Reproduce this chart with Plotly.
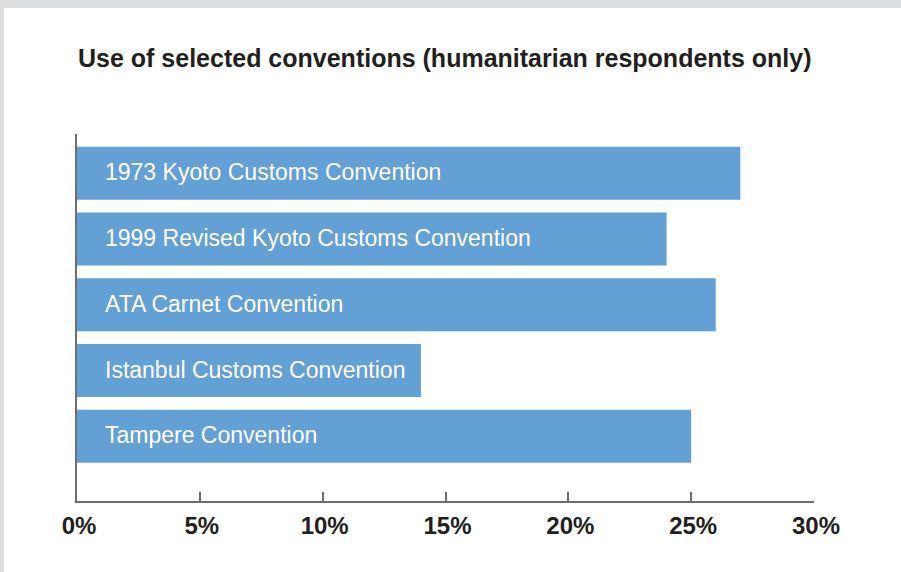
import plotly.graph_objects as go

categories = [
    "1973 Kyoto Customs Convention",
    "1999 Revised Kyoto Customs Convention",
    "ATA Carnet Convention",
    "Istanbul Customs Convention",
    "Tampere Convention",
]
values = [27, 24, 26, 14, 25]
tick_vals = [0, 5, 10, 15, 20, 25, 30]
tick_text = ["0%", "5%", "10%", "15%", "20%", "25%", "30%"]
title_text = "Use of selected conventions (humanitarian respondents only)"

W, H = 901, 572
ML, MR, MT, MB = 77, 87, 134, 71
PW, PH = W - ML - MR, H - MT - MB

BAR = "#63a0d6"
DARK = "#231f20"
AXIS = "#6d6e71"
FONT = "Liberation Sans, Arial, Helvetica, sans-serif"

ypos = list(range(len(categories)))

fig = go.Figure()
fig.add_trace(go.Bar(
    x=values, y=ypos, orientation="h",
    marker=dict(color=BAR, line=dict(width=0)),
    width=0.805, hoverinfo="skip",
))

for yi, name in zip(ypos, categories):
    fig.add_annotation(
        x=0, y=yi, xref="x", yref="y", text=name, showarrow=False,
        xanchor="left", yanchor="middle", xshift=26, yshift=1,
        font=dict(family=FONT, size=23, color="white"),
    )

# white card over gray page background
fig.add_shape(
    type="rect", xref="paper", yref="paper", layer="below",
    x0=(4 - ML) / PW, x1=(W + 10 - ML) / PW,
    y0=-(MB + 10) / PH, y1=(H - 8 - MB) / PH,
    fillcolor="white", line=dict(width=0),
)

fig.update_layout(
    width=W, height=H,
    margin=dict(l=ML, r=MR, t=MT, b=MB, pad=0),
    paper_bgcolor="#dcdddf",
    plot_bgcolor="rgba(0,0,0,0)",
    showlegend=False,
    font=dict(family=FONT, color=DARK),
    title=dict(
        text=title_text, x=78 / W, xref="container", xanchor="left",
        y=1 - 58.5 / H, yref="container", yanchor="middle",
        font=dict(family=FONT, size=25, color=DARK, weight="bold"),
    ),
    xaxis=dict(
        range=[0, 30], tickvals=tick_vals, ticktext=tick_text,
        showgrid=False, zeroline=False,
        showline=True, linecolor=AXIS, linewidth=1.5,
        ticks="inside", ticklen=9, tickwidth=1.5, tickcolor=AXIS,
        tickfont=dict(family=FONT, size=24, color=DARK, weight="bold"),
        ticklabelstandoff=2, ticklabelshift=2,
        fixedrange=True,
    ),
    yaxis=dict(
        range=[4.983, -0.597], showticklabels=False, showgrid=False,
        zeroline=False, showline=True, linecolor=AXIS, linewidth=1.5,
        ticks="", fixedrange=True,
    ),
)

fig.write_html(
    "out.html",
    config={"displayModeBar": False},
    post_script="document.body.style.margin='0';document.body.style.overflow='hidden';",
)
